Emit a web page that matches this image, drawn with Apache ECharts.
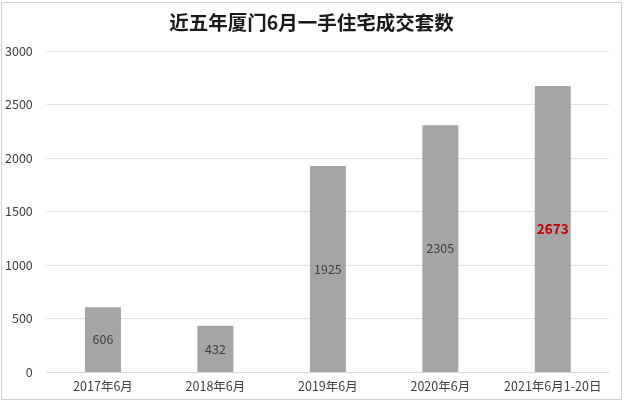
<!DOCTYPE html>
<html><head><meta charset="utf-8">
<script src="https://cdn.jsdelivr.net/npm/echarts@6/dist/echarts.min.js"></script>
<style>
html,body{margin:0;padding:0;background:#fff;}
#c{width:619px;height:396px;border:1px solid #d0d0d0;margin:2px 0 0 1px;}
</style></head>
<body><div id="c"></div>
<script>
const titleText = '近五年厦门6月一手住宅成交套数';
const categories = ['2017年6月','2018年6月','2019年6月','2020年6月','2021年6月1-20日'];
const values = [606, 432, 1925, 2305, 2673];
const highlightIndex = 4;
const yTicks = [0, 500, 1000, 1500, 2000, 2500, 3000];

const chart = echarts.init(document.getElementById('c'), null, {renderer:'canvas'});
const font = '"Microsoft YaHei","Noto Sans CJK SC","Noto Sans",sans-serif';
chart.setOption({
  animation:false,
  backgroundColor:'#fff',
  textStyle:{fontFamily:font},
  title:{text:titleText,left:'center',top:5,textStyle:{fontSize:19.5,fontWeight:'bold',color:'#1a1a1a',fontFamily:font}},
  grid:{left:41,right:12,top:48,bottom:27,containLabel:false},
  xAxis:{type:'category',data:categories,
    axisLine:{lineStyle:{color:'#d9d9d9'}},axisTick:{show:false},
    axisLabel:{color:'#404040',fontSize:12.5,margin:8,interval:0}},
  yAxis:{type:'value',min:yTicks[0],max:yTicks[yTicks.length-1],interval:500,
    axisLine:{show:false},axisTick:{show:false},
    splitLine:{lineStyle:{color:'#e0e0e0'}},
    axisLabel:{color:'#404040',fontSize:12.5,margin:14,formatter:v=>String(v)}},
  series:[{type:'bar',barWidth:'32%',
    data:values.map((v,i)=>i===highlightIndex?{value:v,label:{color:'#c00000',fontWeight:'bold',fontSize:13.5}}:v),
    itemStyle:{color:'#a5a5a5'},
    label:{show:true,position:'inside',color:'#404040',fontSize:12.5}}]
});
</script></body></html>
